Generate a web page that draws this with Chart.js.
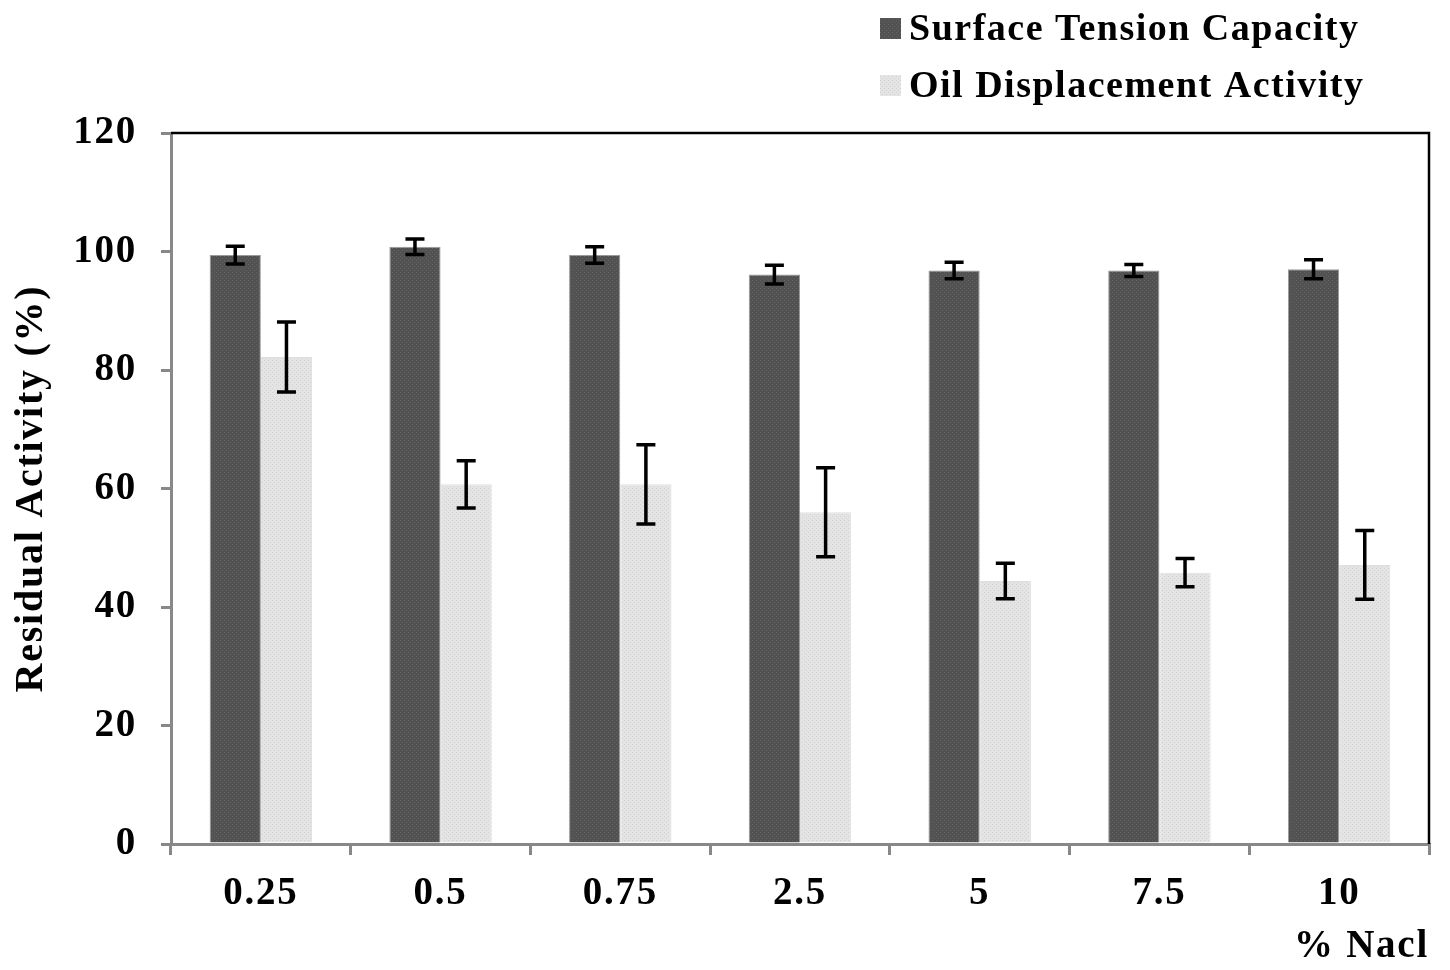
<!DOCTYPE html>
<html>
<head>
<meta charset="utf-8">
<title>Residual Activity vs % NaCl</title>
<script src="https://cdn.jsdelivr.net/npm/chart.js@4.4.1/dist/chart.umd.min.js"></script>
<style>
  html, body { margin: 0; padding: 0; background: #fff; }
  #wrap { width: 1450px; height: 970px; position: relative; }
</style>
</head>
<body>
<div id="wrap"><canvas id="myChart" width="1450" height="970"></canvas></div>
<script>
// data
const categories = ["0.25", "0.5", "0.75", "2.5", "5", "7.5", "10"];
const surfaceTension = [99.4, 100.8, 99.4, 96.1, 96.8, 96.8, 97.0];
const surfaceTensionErr = [1.5, 1.3, 1.4, 1.6, 1.4, 1.0, 1.6];
const oilDisplacement = [82.2, 60.7, 60.7, 56.0, 44.4, 45.8, 47.1];
const oilDisplacementErr = [5.9, 4.0, 6.7, 7.5, 3.0, 2.4, 5.8];
const yTicks = [0, 20, 40, 60, 80, 100, 120];

const serif = '"Liberation Serif", "Times New Roman", serif';
Chart.defaults.font.family = serif;
Chart.defaults.font.weight = "bold";
Chart.defaults.color = "#000";

// small dotted fills, like the print texture
function makePattern(base, dot) {
  const c = document.createElement("canvas");
  c.width = 4;
  c.height = 4;
  const g = c.getContext("2d");
  g.fillStyle = base;
  g.fillRect(0, 0, 4, 4);
  g.fillStyle = dot;
  g.fillRect(0, 0, 1, 1);
  g.fillRect(2, 2, 1, 1);
  return g.createPattern(c, "repeat");
}
const ctx = document.getElementById("myChart").getContext("2d");
const darkFill = makePattern("#525252", "#626262");
const lightFill = makePattern("#e4e4e4", "#d2d2d2");

// the original type is a little spaced out
const spacing = {
  id: "spacing",
  beforeDraw(chart) { chart.ctx.letterSpacing = "1.75px"; },
  afterDraw(chart) { chart.ctx.letterSpacing = "0px"; }
};

// error bars drawn from the bar elements and the y scale
const errorBars = {
  id: "errorBars",
  afterDatasetsDraw(chart) {
    const g = chart.ctx;
    const y = chart.scales.y;
    g.save();
    g.strokeStyle = "#000";
    g.lineWidth = 3.5;
    chart.data.datasets.forEach((ds, di) => {
      const meta = chart.getDatasetMeta(di);
      meta.data.forEach((bar, i) => {
        const e = ds.errors[i];
        const v = ds.data[i];
        const top = y.getPixelForValue(v + e);
        const bot = y.getPixelForValue(v - e);
        const cap = 9.5;
        g.beginPath();
        g.moveTo(bar.x, top);
        g.lineTo(bar.x, bot);
        g.moveTo(bar.x - cap, top);
        g.lineTo(bar.x + cap, top);
        g.moveTo(bar.x - cap, bot);
        g.lineTo(bar.x + cap, bot);
        g.stroke();
      });
    });
    g.restore();
  }
};

// black frame on the top and right side of the plot
const frame = {
  id: "frame",
  afterDraw(chart) {
    const a = chart.chartArea;
    const g = chart.ctx;
    g.save();
    g.strokeStyle = "#000";
    g.lineWidth = 2.5;
    g.beginPath();
    g.moveTo(a.left, a.top);
    g.lineTo(a.right, a.top);
    g.lineTo(a.right, a.bottom);
    g.stroke();
    g.restore();
  }
};

// legend stacked in two rows at the top right
const stackedLegend = {
  id: "stackedLegend",
  afterDraw(chart) {
    const g = chart.ctx;
    g.save();
    g.font = "bold 38px " + serif;
    g.letterSpacing = "1.5px";
    g.textBaseline = "alphabetic";
    chart.data.datasets.forEach((ds, i) => {
      const top = 18 + i * 57;
      g.fillStyle = ds.backgroundColor;
      g.fillRect(880, top, 21, 21);
      g.fillStyle = "#000";
      g.fillText(ds.label, 909, top + 22);
    });
    g.restore();
  }
};

const config = {
  type: "bar",
  data: {
    labels: categories,
    datasets: [
      {
        label: "Surface Tension Capacity",
        data: surfaceTension,
        errors: surfaceTensionErr,
        backgroundColor: darkFill,
        borderColor: "#9a9a9a",
        borderWidth: 1
      },
      {
        label: "Oil Displacement Activity",
        data: oilDisplacement,
        errors: oilDisplacementErr,
        backgroundColor: lightFill,
        borderColor: "#e0e0e0",
        borderWidth: 1
      }
    ]
  },
  options: {
    responsive: false,
    animation: false,
    layout: { padding: { top: 133, right: 21, left: 0, bottom: 0 } },
    datasets: {
      bar: { categoryPercentage: 0.57, barPercentage: 1.0 }
    },
    plugins: {
      legend: { display: false },
      tooltip: { enabled: false }
    },
    scales: {
      x: {
        grid: { drawOnChartArea: false, color: "#888", lineWidth: 3, tickLength: 11 },
        border: { color: "#888", width: 3 },
        ticks: { font: { size: 39 }, padding: 16, color: "#000" },
        title: {
          display: true,
          text: "% Nacl",
          align: "end",
          font: { size: 39 },
          padding: { top: 0, bottom: 0 },
          color: "#000"
        },
        afterFit(s) { s.height = 126; }
      },
      y: {
        min: 0,
        max: 120,
        afterBuildTicks(s) { s.ticks = yTicks.map(v => ({ value: v })); },
        grid: { drawOnChartArea: false, color: "#888", lineWidth: 3, tickLength: 10 },
        border: { color: "#888", width: 3 },
        ticks: { font: { size: 39 }, padding: 24, color: "#000" },
        title: {
          display: true,
          text: "Residual Activity (%)",
          font: { size: 40 },
          padding: { top: 8, bottom: 0 },
          color: "#000"
        },
        afterFit(s) { s.width = 171; }
      }
    }
  },
  plugins: [spacing, errorBars, frame, stackedLegend]
};
const myChart = new Chart(ctx, config);
</script>
</body>
</html>
